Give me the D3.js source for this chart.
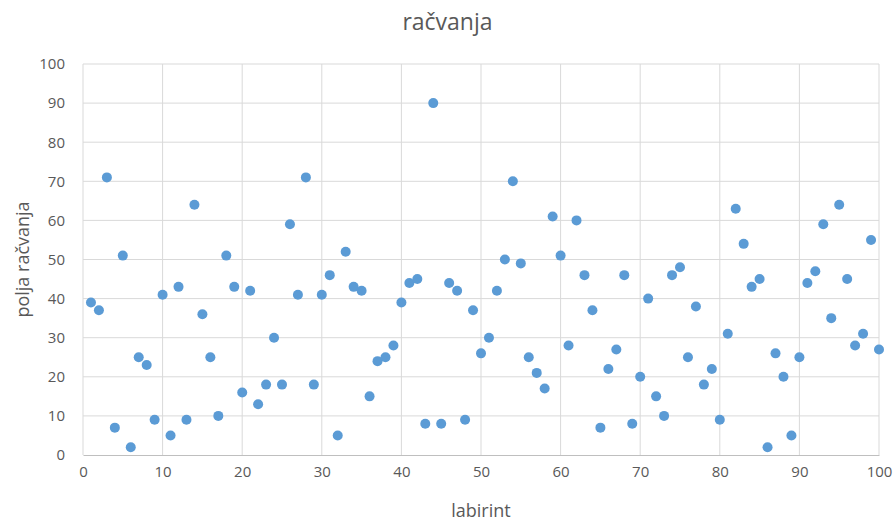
<!DOCTYPE html>
<html>
<head>
<meta charset="utf-8">
<script src="https://cdn.jsdelivr.net/npm/d3@7"></script>
<style>
  body { margin: 0; background: #fff; }
  svg text { font-family: "Open Sans", "Noto Sans", sans-serif; fill: #595959; }
</style>
</head>
<body>
<div id="chart"></div>
<script>
const title = "račvanja";
const xTitle = "labirint";
const yTitle = "polja račvanja";

// labirint 1..100
const labirint = d3.range(1, 101);
const polja = [
  39, 37, 71, 7, 51, 2, 25, 23, 9, 41,
  5, 43, 9, 64, 36, 25, 10, 51, 43, 16,
  42, 13, 18, 30, 18, 59, 41, 71, 18, 41,
  46, 5, 52, 43, 42, 15, 24, 25, 28, 39,
  44, 45, 8, 90, 8, 44, 42, 9, 37, 26,
  30, 42, 50, 70, 49, 25, 21, 17, 61, 51,
  28, 60, 46, 37, 7, 22, 27, 46, 8, 20,
  40, 15, 10, 46, 48, 25, 38, 18, 22, 9,
  31, 63, 54, 43, 45, 2, 26, 20, 5, 25,
  44, 47, 59, 35, 64, 45, 28, 31, 55, 27
];
const xTicks = d3.range(0, 101, 10);
const yTicks = d3.range(0, 101, 10);

const W = 895, H = 524;
const margin = { top: 64, right: 16, bottom: 69, left: 83 };
const width = W - margin.left - margin.right;
const height = H - margin.top - margin.bottom;

const svg = d3.select("#chart").append("svg")
    .attr("width", W)
    .attr("height", H);

const g = svg.append("g")
    .attr("transform", `translate(${margin.left},${margin.top})`);

const x = d3.scaleLinear().domain([0, 100]).range([0, width]);
const y = d3.scaleLinear().domain([0, 100]).range([height, 0]);

// gridlines
g.append("g")
    .selectAll("line.hg")
    .data(yTicks.filter(d => d > 0))
    .join("line")
    .attr("x1", 0).attr("x2", width)
    .attr("y1", d => y(d)).attr("y2", d => y(d))
    .attr("stroke", "#d9d9d9").attr("stroke-width", 1);

g.append("g")
    .selectAll("line.vg")
    .data(xTicks)
    .join("line")
    .attr("x1", d => x(d)).attr("x2", d => x(d))
    .attr("y1", 0).attr("y2", height)
    .attr("stroke", "#d9d9d9").attr("stroke-width", 1);

// x axis
const xAxis = g.append("g")
    .attr("transform", `translate(0,${height})`)
    .call(d3.axisBottom(x).tickValues(xTicks).tickSize(0).tickPadding(11));
xAxis.select(".domain").attr("stroke", "#bfbfbf");
xAxis.selectAll("text").attr("font-size", 15).style("fill", "#595959");

// y axis
const yAxis = g.append("g")
    .call(d3.axisLeft(y).tickValues(yTicks).tickSize(0).tickPadding(18));
yAxis.select(".domain").remove();
yAxis.selectAll("text").attr("font-size", 15).style("fill", "#595959");

// points
g.append("g")
    .selectAll("circle")
    .data(labirint.map((d, i) => ({ x: d, y: polja[i] })))
    .join("circle")
    .attr("cx", d => x(d.x))
    .attr("cy", d => y(d.y))
    .attr("r", 5)
    .attr("fill", "#5b9bd5");

// titles
svg.append("text")
    .attr("x", W / 2)
    .attr("y", 30)
    .attr("text-anchor", "middle")
    .attr("font-size", 23)
    .text(title);

svg.append("text")
    .attr("x", margin.left + width / 2)
    .attr("y", 517)
    .attr("text-anchor", "middle")
    .attr("font-size", 18)
    .text(xTitle);

svg.append("text")
    .attr("transform", `translate(29,${margin.top + height / 2}) rotate(-90)`)
    .attr("text-anchor", "middle")
    .attr("font-size", 18)
    .text(yTitle);
</script>
</body>
</html>
